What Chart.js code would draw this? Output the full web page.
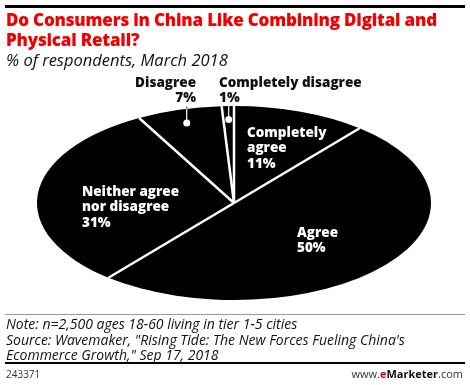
<!DOCTYPE html>
<html>
<head>
<meta charset="utf-8">
<script src="https://cdn.jsdelivr.net/npm/chart.js@4.4.1/dist/chart.umd.min.js"></script>
<style>
  html, body { margin: 0; padding: 0; background: #fff; }
  #wrap { position: relative; width: 470px; height: 385px; overflow: hidden; font-family: "Open Sans", Arial, sans-serif; }
  #pie { position: absolute; left: 0; top: 0; }
  .abs { position: absolute; white-space: nowrap; }
  .rule { position: absolute; left: 5px; width: 460px; }
  #title { left: 6px; top: 10px; color: #f00000; font-weight: 800; font-size: 17px; line-height: 20px; letter-spacing: -0.2px; }
  #sub { left: 6px; top: 48px; font-style: italic; font-size: 16.5px; color: #111; }
  #note { left: 6px; top: 316px; font-style: italic; font-size: 14px; line-height: 15.5px; color: #111; }
  #id { left: 6px; top: 367px; font-size: 10px; color: #333; }
  #brand { right: 7px; top: 366px; font-size: 11px; color: #333; }
  #brand b { color: #111; }
  #brand .e { color: #e2001a; font-weight: 700; }
</style>
</head>
<body>
<div id="wrap">
  <canvas id="pie" width="470" height="385"></canvas>
  <div class="rule" style="top:5px;height:3px;background:#000"></div>
  <div id="title" class="abs">Do Consumers in China Like Combining Digital and<br>Physical Retail?</div>
  <div id="sub" class="abs">% of respondents, March 2018</div>
  <div class="rule" style="top:314px;height:1px;background:#999"></div>
  <div id="note" class="abs">Note: n=2,500 ages 18-60 living in tier 1-5 cities<br>Source: Wavemaker, "Rising Tide: The New Forces Fueling China's<br>Ecommerce Growth," Sep 17, 2018</div>
  <div class="rule" style="top:362px;height:2px;background:#000"></div>
  <div id="id" class="abs">243371</div>
  <div id="brand" class="abs">www.<span class="e">e</span><b>Marketer</b>.com</div>
</div>
<script>
// Données du graphique
const categories = ['Completely agree', 'Agree', 'Neither agree nor disagree', 'Disagree', 'Completely disagree'];
const shares = [11, 50, 31, 7, 1];
const labelLines = [['Completely', 'agree'], ['Agree'], ['Neither agree', 'nor disagree'], ['Disagree'], ['Completely disagree']];

// Mise en page des étiquettes (texte seulement)
const labelLayout = [
  { x: 247, y: 133, align: 'left', color: '#fff' },
  { x: 297, y: 233, align: 'left', color: '#fff' },
  { x: 82, y: 192, align: 'left', color: '#fff' },
  { x: 196, y: 83, align: 'right', color: '#111', leader: true },
  { x: 219, y: 83, align: 'left', color: '#111', leader: true }
];

const RX = 197, RY = 97;

const ellipsePie = {
  id: 'ellipsePie',
  beforeDatasetsDraw(chart) {
    const arc = chart.getDatasetMeta(0).data[0];
    const ctx = chart.ctx;
    ctx.save();
    ctx.translate(arc.x, arc.y);
    ctx.scale(RX / arc.outerRadius, RY / arc.outerRadius);
    ctx.translate(-arc.x, -arc.y);
  },
  afterDatasetsDraw(chart) {
    const ctx = chart.ctx;
    ctx.restore();
    const arcs = chart.getDatasetMeta(0).data;
    const cx = arcs[0].x, cy = arcs[0].y;

    // séparateurs blancs
    ctx.save();
    ctx.strokeStyle = '#fff';
    ctx.lineWidth = 2.5;
    arcs.forEach(a => {
      ctx.beginPath();
      ctx.moveTo(cx, cy);
      ctx.lineTo(cx + RX * Math.cos(a.startAngle), cy + RY * Math.sin(a.startAngle));
      ctx.stroke();
    });

    // étiquettes
    ctx.font = '800 13.5px "Open Sans", Arial, sans-serif';
    ctx.textBaseline = 'middle';
    arcs.forEach((a, i) => {
      const lay = labelLayout[i];
      const lines = labelLines[i].concat([shares[i] + '%']);
      ctx.fillStyle = lay.color;
      ctx.textAlign = lay.align;
      lines.forEach((t, k) => ctx.fillText(t, lay.x, lay.y + k * 15.5));
      if (lay.leader) {
        const mid = (a.startAngle + a.endAngle) / 2;
        const dx = RX * 0.86 * Math.cos(mid), dy = RY * 0.86 * Math.sin(mid);
        const px = cx + dx, py = cy + dy;
        const edgeY = cy - RY * Math.sqrt(1 - Math.pow(dx / RX, 2));
        const topY = lay.y + 15.5 + 8;
        ctx.lineWidth = 1.2;
        ctx.strokeStyle = '#555';
        ctx.beginPath(); ctx.moveTo(px, topY); ctx.lineTo(px, edgeY); ctx.stroke();
        ctx.strokeStyle = '#fff';
        ctx.beginPath(); ctx.moveTo(px, edgeY); ctx.lineTo(px, py); ctx.stroke();
        ctx.fillStyle = '#fff';
        ctx.beginPath(); ctx.arc(px, py, 3.5, 0, Math.PI * 2); ctx.fill();
      }
    });
    ctx.restore();
  }
};

new Chart(document.getElementById('pie').getContext('2d'), {
  type: 'pie',
  data: {
    labels: categories,
    datasets: [{
      data: shares,
      backgroundColor: '#000',
      borderWidth: 0
    }]
  },
  options: {
    responsive: false,
    animation: false,
    layout: { padding: { left: 134, right: 136, top: 103, bottom: 82 } },
    plugins: { legend: { display: false }, tooltip: { enabled: false } }
  },
  plugins: [ellipsePie]
});
</script>
</body>
</html>
